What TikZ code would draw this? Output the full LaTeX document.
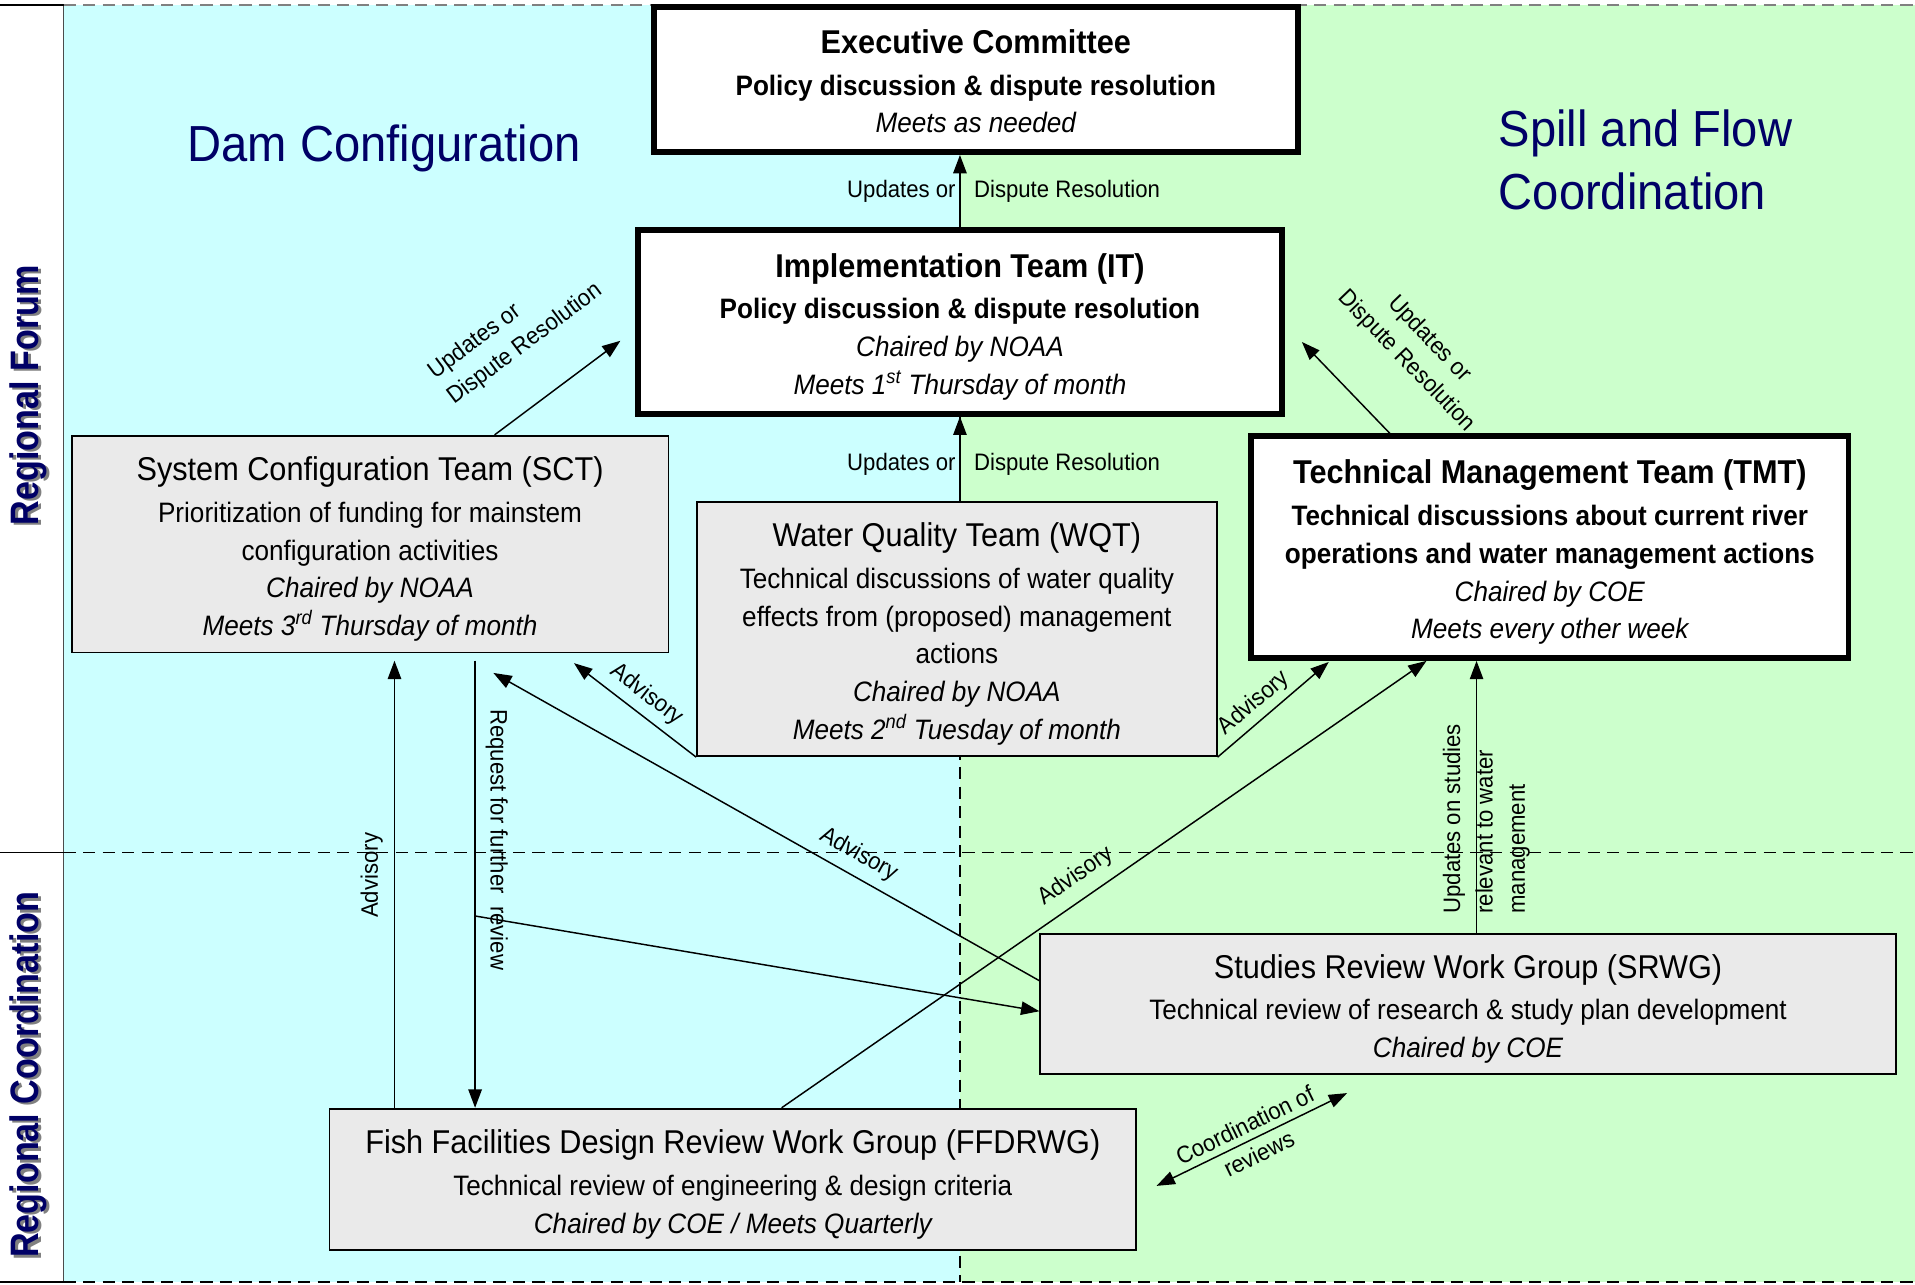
\documentclass[tikz,border=0pt]{standalone}
\usepackage{fontspec}
\setmainfont{Liberation Sans}[FakeStretch=0.93]
\newfontfamily\sidefont{Liberation Sans}[FakeStretch=0.86]
\usetikzlibrary{arrows.meta}

\definecolor{damcyan}{RGB}{204,255,255}
\definecolor{spillgreen}{RGB}{204,255,204}
\definecolor{boxgray}{RGB}{234,234,234}
\definecolor{navy}{RGB}{0,0,102}
\newcommand\ttlfont{\fontsize{27}{31}\selectfont}
\newcommand\bodyfont{\fontsize{23}{31}\selectfont}
\newcommand\lblfont{\fontsize{19.5}{26}\selectfont}
\newcommand\headfont{\fontsize{41.5}{52}\selectfont}
\newcommand\topstrut[1]{\rule{0pt}{#1}}

\begin{document}
\begin{tikzpicture}[x=1pt, y=-1pt, >={Triangle[length=15pt,width=11pt]},
    box/.style={draw, line width=1.4pt, fill=boxgray, inner sep=0pt, align=center, font=\bodyfont},
    bigbox/.style={box, line width=4.8pt, fill=white},
    lbl/.style={font=\lblfont, inner sep=1pt},
    head/.style={font=\headfont, text=navy, inner sep=0pt},
    side/.style={font=\sidefont\bfseries\fontsize{32.5}{36}\selectfont, inner sep=0pt, rotate=90},
    divide/.style={dash pattern=on 10pt off 6pt, line width=1.6pt}]
    \useasboundingbox (0,0) rectangle (1568,1052);

    \fill[damcyan] (52,4) rectangle (786,1050);
    \fill[spillgreen] (786,4) rectangle (1568,1050);
    \draw[gray!60!black, line width=1pt] (52,4) -- (52,1050);
    \draw[line width=1.6pt] (0,4) -- (52,4) (0,698) -- (52,698) (0,1050) -- (52,1050);
    \draw[divide, gray] (52,4) -- (1568,4);
    \draw[divide] (52,698) -- (1568,698) (52,1050) -- (1568,1050) (786,4) -- (786,1050);

    \node[head, anchor=base] (damhead) at (314.5,132.6) {Dam Configuration};
    \node[head, anchor=west, align=left] (spillhead) at (1227,131) {Spill and Flow\\Coordination};
    \node[side, text=gray] (forumsh) at (25.5,325.5) {Regional Forum};
    \node[side, text=navy] (forum) at (23.5,323.5) {Regional Forum};
    \node[side, text=gray] (coordsh) at (25.5,882) {Regional Coordination};
    \node[side, text=navy] (coord) at (23.5,880) {Regional Coordination};

    \node[bigbox, minimum width=527pt, minimum height=119pt] (exec) at (799,65)
        {{\ttlfont\bfseries\topstrut{23pt}Executive Committee}\\[3pt]{\bfseries Policy discussion \& dispute resolution}\\{\itshape Meets as needed}};
    \node[bigbox, minimum width=527pt, minimum height=150.5pt] (it) at (786,263.5)
        {{\ttlfont\bfseries\topstrut{28pt}Implementation Team (IT)}\\[3pt]{\bfseries Policy discussion \& dispute resolution}\\{\itshape Chaired by NOAA}\\{\itshape Meets 1\textsuperscript{st} Thursday of month}};
    \node[box, minimum width=488.5pt, minimum height=177.5pt] (sct) at (303,445.5)
        {{\ttlfont\topstrut{28pt}System Configuration Team (SCT)}\\[3pt]Prioritization of funding for mainstem\\configuration activities\\{\itshape Chaired by NOAA}\\{\itshape Meets 3\textsuperscript{rd} Thursday of month}};
    \node[box, minimum width=425.5pt, minimum height=208.5pt] (wqt) at (783.5,515)
        {{\ttlfont\topstrut{28pt}Water Quality Team (WQT)}\\[3pt]Technical discussions of water quality\\effects from (proposed) management\\actions\\{\itshape Chaired by NOAA}\\{\itshape Meets 2\textsuperscript{nd} Tuesday of month}};
    \node[bigbox, minimum width=489pt, minimum height=181.5pt] (tmt) at (1269,448)
        {{\ttlfont\bfseries\topstrut{28pt}Technical Management Team (TMT)}\\[3pt]{\bfseries Technical discussions about current river}\\{\bfseries operations and water management actions}\\{\itshape Chaired by COE}\\{\itshape Meets every other week}};
    \node[box, minimum width=700.5pt, minimum height=114.5pt] (srwg) at (1202,822)
        {{\ttlfont\topstrut{28pt}Studies Review Work Group (SRWG)}\\[3pt]Technical review of research \& study plan development\\{\itshape Chaired by COE}};
    \node[box, minimum width=660.5pt, minimum height=115.5pt] (ffd) at (600,965.5)
        {{\ttlfont\topstrut{28pt}Fish Facilities Design Review Work Group (FFDRWG)}\\[3pt]Technical review of engineering \& design criteria\\{\itshape Chaired by COE / Meets Quarterly}};

    \coordinate (mid) at (786,0);
    \coordinate (itL) at (508,279);
    \coordinate (itR) at (1066,280);
    \coordinate (sctA) at (470,543);
    \coordinate (tmtA) at (1088,542);
    \coordinate (sctB) at (404,551);
    \coordinate (sctC) at (323,541);
    \coordinate (sctD) at (389,541);
    \coordinate (fork) at (389,750);
    \coordinate (coA) at (947,971);
    \coordinate (coB) at (1103,895);

    \path[->, line width=1.2pt]
    (mid |- it.north) edge node[lbl, pos=0.49, left=2pt] {Updates or} node[lbl, pos=0.49, right=10pt] {Dispute Resolution} (mid |- exec.south)
    (mid |- wqt.north) edge node[lbl, pos=0.43, left=2pt] {Updates or} node[lbl, pos=0.43, right=10pt] {Dispute Resolution} (mid |- it.south)
    (sct.north -| 405,0) edge node[lbl, midway, sloped, above=34pt, align=left] {Updates or\\Dispute Resolution} (itL)
    (tmt.north -| 1138,0) edge node[lbl, pos=0.32, sloped, above=40pt, align=center] {Updates or\\Dispute Resolution} (itR)
    (wqt.south west) edge node[lbl, midway, sloped, above=5pt] {Advisory} (sctA)
    (wqt.south east) edge node[lbl, pos=0.43, sloped, above=3.5pt] {Advisory} (tmtA)
    (srwg.west |- 0,803) edge node[lbl, pos=0.35, sloped, above=6.5pt] {Advisory} (sctB)
    (ffd.north -| 640,0) edge node[lbl, pos=0.476, sloped, above=8pt] {Advisory} (tmt.south -| 1168,0)
    (ffd.north -| 323,0) edge node[lbl, pos=0.52, sloped, above=8pt] {Advisory} (sctC)
    (sctD) edge node[lbl, pos=0.40, sloped, above=7pt] {Request for further \ review} (ffd.north -| 389,0)
    (fork) edge (srwg.west |- 0,828)
    (srwg.north -| 1209,0) edge node[lbl, pos=0.42, sloped, align=left, yshift=-8pt, font=\fontsize{19.5}{26.5}\selectfont] {Updates on studies\\relevant to water\\management} (tmt.south -| 1209,0)
    (coA) edge[<->] node[lbl, midway, sloped, align=center] {Coordination of\\reviews} (coB);
\end{tikzpicture}
\end{document}
